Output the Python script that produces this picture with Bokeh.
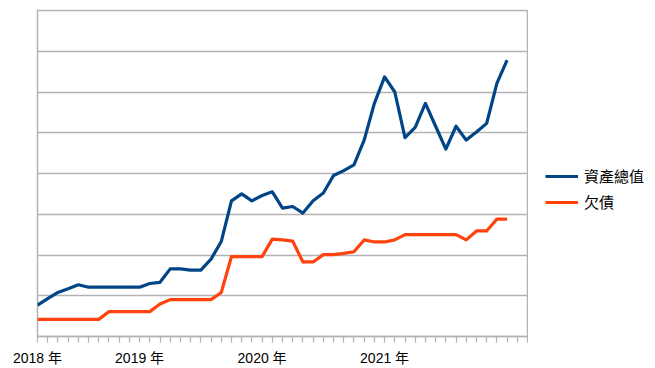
from bokeh.plotting import figure
from bokeh.layouts import row
from bokeh.models import FixedTicker, Legend, LegendItem, ColumnDataSource, Range1d
from bokeh.embed import file_html
from bokeh.resources import INLINE

# month index (0 = first month shown)
months = list(range(47))
assets = [0.77, 0.93, 1.08, 1.17, 1.27, 1.21, 1.21, 1.21, 1.21, 1.21, 1.21, 1.30,
          1.33, 1.66, 1.66, 1.63, 1.63, 1.90, 2.33, 3.33, 3.50, 3.33, 3.46, 3.55,
          3.15, 3.19, 3.03, 3.33, 3.52, 3.95, 4.07, 4.21, 4.82, 5.72, 6.37, 6.00,
          4.88, 5.13, 5.72, 5.16, 4.60, 5.16, 4.82, 5.02, 5.23, 6.21, 6.78]
debt = [0.42, 0.42, 0.42, 0.42, 0.42, 0.42, 0.42, 0.61, 0.61, 0.61, 0.61, 0.61,
        0.80, 0.905, 0.905, 0.905, 0.905, 0.905, 1.08, 1.96, 1.96, 1.96, 1.96, 2.39,
        2.37, 2.34, 1.83, 1.83, 2.01, 2.01, 2.04, 2.08, 2.37, 2.32, 2.32, 2.37,
        2.50, 2.50, 2.50, 2.50, 2.50, 2.50, 2.37, 2.59, 2.59, 2.88, 2.88]
series_names = ["資產總值", "欠債"]
series_colors = ["#004586", "#ff420e"]
year_labels = ["2018 年", "2019 年", "2020 年", "2021 年"]
year_label_pos = [0, 10, 22, 34]
x_end = 48
y_grid = [1, 2, 3, 4, 5, 6, 7]
y_max = 8

FONT = "Liberation Sans, Noto Sans CJK TC, sans-serif"
GRID = "#b3b3b3"
H = 368
NAN = float("nan")

p = figure(width=528, height=H, output_backend="svg", toolbar_location=None,
           x_range=Range1d(0, x_end), y_range=Range1d(0, y_max),
           min_border_left=37, min_border_right=1, min_border_top=10,
           min_border_bottom=31)
p.outline_line_color = GRID
p.outline_line_width = 1.5
p.background_fill_color = "white"
p.border_fill_color = "white"

src = ColumnDataSource(dict(x=months, a=assets, d=debt))
p.line("x", "a", source=src, line_color=series_colors[0], line_width=3.2, line_join="round")
p.line("x", "d", source=src, line_color=series_colors[1], line_width=3.2, line_join="round")

p.yaxis.visible = False
p.xgrid.visible = False
p.ygrid.ticker = FixedTicker(ticks=y_grid)
p.ygrid.grid_line_color = GRID
p.ygrid.grid_line_width = 1.5

ax = p.xaxis[0]
ax.ticker = FixedTicker(ticks=year_label_pos, minor_ticks=list(range(0, x_end + 1)))
ax.major_label_overrides = {pos: lab for pos, lab in zip(year_label_pos, year_labels)}
ax.axis_line_color = GRID
ax.axis_line_width = 1.5
ax.major_tick_line_color = None
ax.major_tick_out = 6
ax.major_tick_in = 0
ax.minor_tick_line_color = GRID
ax.minor_tick_line_width = 1.2
ax.minor_tick_out = 6
ax.minor_tick_in = 0
ax.major_label_standoff = 7
ax.major_label_text_font = FONT
ax.major_label_text_font_size = "14px"
ax.major_label_text_color = "black"

# legend panel (separate figure to the right of the chart)
p2 = figure(width=127, height=H, output_backend="svg", toolbar_location=None,
            min_border=0, x_range=Range1d(0, 1), y_range=Range1d(0, 1))
p2.axis.visible = False
p2.grid.visible = False
p2.outline_line_color = None
p2.background_fill_color = "white"
p2.border_fill_color = "white"
l1 = p2.line(x=[NAN], y=[NAN], line_color=series_colors[0], line_width=3.2)
l2 = p2.line(x=[NAN], y=[NAN], line_color=series_colors[1], line_width=3.2)

legend = Legend(items=[LegendItem(label=series_names[0], renderers=[l1]),
                       LegendItem(label=series_names[1], renderers=[l2])],
                location=(17, 124), padding=0, margin=0, spacing=5,
                glyph_width=33, glyph_height=20, label_height=20, label_standoff=6,
                label_text_font=FONT, label_text_font_size="15px",
                label_text_color="black", border_line_color=None,
                background_fill_alpha=0)
p2.add_layout(legend, "center")

open("out.html", "w").write(file_html(row(p, p2), INLINE))
